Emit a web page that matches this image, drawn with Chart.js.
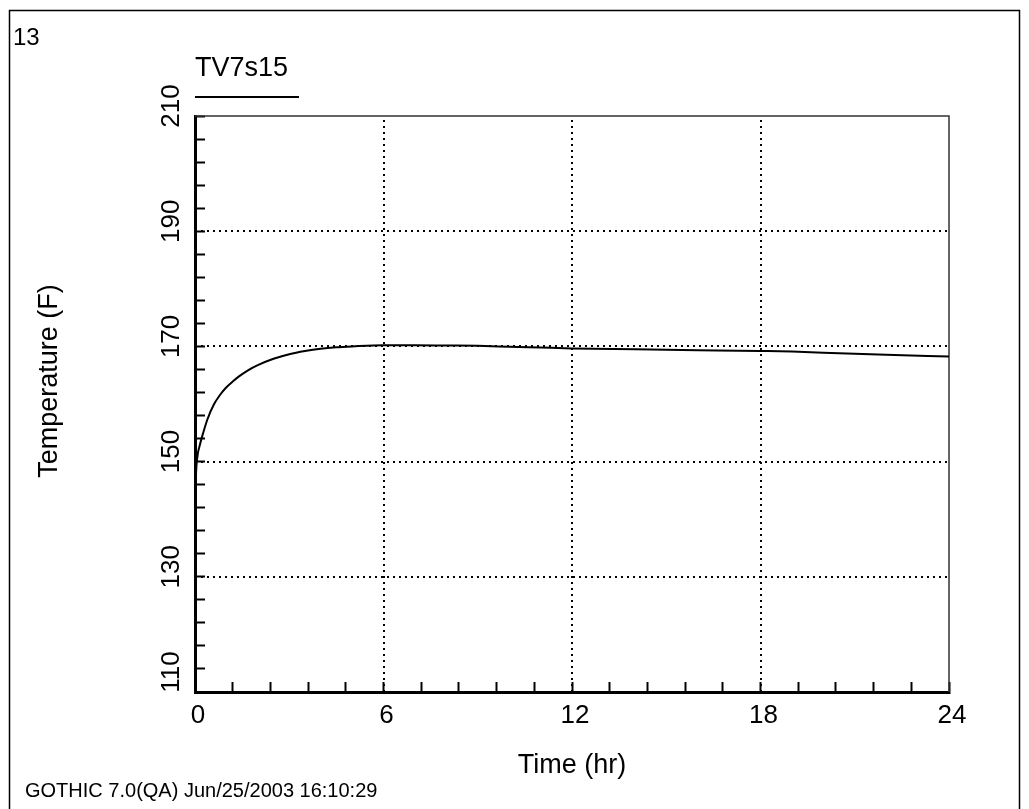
<!DOCTYPE html>
<html>
<head>
<meta charset="utf-8">
<script src="https://cdn.jsdelivr.net/npm/chart.js@4.4.0/dist/chart.umd.min.js"></script>
<style>
  html, body { margin: 0; padding: 0; background: #fff; }
  #wrap { width: 1029px; height: 809px; }
</style>
</head>
<body>
<div id="wrap"><canvas id="c" width="1029" height="809"></canvas></div>
<script>
// ---- data ----
const times = [0, 0.03, 0.08, 0.15, 0.25, 0.4, 0.6, 0.8, 1.0, 1.2, 1.4, 1.7, 2.0, 2.5, 3.0, 3.5, 4.0, 4.5, 5.0, 6.0, 7.0, 8.0, 9.0, 10, 11, 12, 14, 16, 18, 19, 20, 22, 24];
const temps = [140.5, 147.5, 151.0, 152.8, 154.8, 157.4, 159.9, 161.6, 162.9, 163.9, 164.8, 165.9, 166.75, 167.85, 168.65, 169.2, 169.6, 169.85, 170.0, 170.2, 170.2, 170.15, 170.1, 169.95, 169.8, 169.65, 169.5, 169.35, 169.2, 169.1, 168.9, 168.55, 168.25];
const seriesName = 'TV7s15';
const xTickLabels = ['0', '6', '12', '18', '24'];
const yTickLabels = ['110', '130', '150', '170', '190', '210'];
const xTitle = 'Time (hr)';
const yTitle = 'Temperature (F)';
const pageNumber = '13';
const footer = 'GOTHIC 7.0(QA) Jun/25/2003 16:10:29';

const FONT = '"Liberation Sans", Arial, sans-serif';

const decor = {
  id: 'decor',
  beforeDraw(chart) {
    const ctx = chart.ctx;
    ctx.save();
    ctx.fillStyle = '#fff';
    ctx.fillRect(0, 0, chart.width, chart.height);
    ctx.restore();
  },
  beforeDatasetsDraw(chart) {
    // dotted grid lines at the labelled ticks, positioned by the chart's scales
    const ctx = chart.ctx;
    const a = chart.chartArea;
    const xs = chart.scales.x, ys = chart.scales.y;
    ctx.save();
    ctx.strokeStyle = '#000';
    ctx.lineWidth = 2;
    ctx.setLineDash([2, 4]);
    xTickLabels.forEach(l => {
      const v = Number(l);
      if (v <= xs.min || v >= xs.max) return;
      const px = Math.round(xs.getPixelForValue(v));
      ctx.beginPath();
      ctx.moveTo(px, a.bottom);
      ctx.lineTo(px, a.top);
      ctx.stroke();
    });
    yTickLabels.forEach(l => {
      const v = Number(l);
      if (v <= ys.min || v >= ys.max) return;
      const py = Math.round(ys.getPixelForValue(v));
      ctx.beginPath();
      ctx.moveTo(a.left, py);
      ctx.lineTo(a.right, py);
      ctx.stroke();
    });
    // top and right frame
    ctx.setLineDash([]);
    ctx.lineWidth = 1.5;
    ctx.strokeStyle = '#333';
    ctx.beginPath();
    ctx.moveTo(a.left, a.top);
    ctx.lineTo(a.right, a.top);
    ctx.lineTo(a.right, a.bottom);
    ctx.stroke();
    ctx.restore();
  },
  afterDraw(chart) {
    const ctx = chart.ctx;
    const a = chart.chartArea;
    const xs = chart.scales.x, ys = chart.scales.y;
    ctx.save();
    // outer page border
    ctx.strokeStyle = '#000';
    ctx.lineWidth = 1.5;
    ctx.strokeRect(9.5, 10.5, 1010, 830);

    ctx.fillStyle = '#000';
    ctx.textBaseline = 'alphabetic';
    ctx.textAlign = 'left';
    ctx.font = '24px ' + FONT;
    ctx.fillText(pageNumber, 13, 45);

    // legend
    ctx.font = '27px ' + FONT;
    ctx.fillText(seriesName, 195, 76);
    ctx.lineWidth = 2;
    ctx.strokeStyle = '#000';
    ctx.beginPath();
    ctx.moveTo(195, 97);
    ctx.lineTo(299, 97);
    ctx.stroke();

    // footer
    ctx.font = '20px ' + FONT;
    ctx.fillText(footer, 25, 797);

    // x title
    ctx.font = '27px ' + FONT;
    ctx.textAlign = 'center';
    ctx.textBaseline = 'middle';
    ctx.fillText(xTitle, (a.left + a.right) / 2, 766);

    // y title
    ctx.save();
    ctx.translate(50, 381);
    ctx.rotate(-Math.PI / 2);
    ctx.fillText(yTitle, 0, 0);
    ctx.restore();

    // x tick labels
    ctx.font = '26px ' + FONT;
    ctx.textAlign = 'center';
    ctx.textBaseline = 'alphabetic';
    xTickLabels.forEach(lab => {
      const px = xs.getPixelForValue(Number(lab));
      ctx.fillText(lab, px + 3, 723);
    });

    // y tick labels (rotated)
    yTickLabels.forEach((lab, i) => {
      const py = ys.getPixelForValue(Number(lab));
      const off = (i === 0) ? -20 : -10;
      ctx.save();
      ctx.translate(172, py + off);
      ctx.rotate(-Math.PI / 2);
      ctx.textAlign = 'center';
      ctx.textBaseline = 'middle';
      ctx.fillText(lab, 0, 0);
      ctx.restore();
    });
    ctx.restore();
  }
};

const points = times.map((t, i) => ({ x: t, y: temps[i] }));

new Chart(document.getElementById('c'), {
  type: 'line',
  data: {
    datasets: [{
      label: seriesName,
      data: points,
      borderColor: '#000',
      borderWidth: 2,
      pointRadius: 0,
      fill: false,
      cubicInterpolationMode: 'monotone'
    }]
  },
  options: {
    responsive: false,
    animation: false,
    devicePixelRatio: 1,
    layout: { padding: { left: 195, top: 116, right: 80, bottom: 117 } },
    plugins: { legend: { display: false }, tooltip: { enabled: false }, title: { display: false } },
    scales: {
      x: {
        type: 'linear',
        min: 0, max: 24,
        afterFit(s) { s.height = 0; },
        ticks: { stepSize: 1.2, autoSkip: false, display: false },
        grid: {
          color: 'rgba(0,0,0,0)',
          drawTicks: true, tickLength: -10,
          tickColor: '#000', tickWidth: 2
        },
        border: { display: true, color: '#000', width: 3 }
      },
      y: {
        type: 'linear',
        min: 110, max: 210,
        afterFit(s) { s.width = 0; },
        ticks: { stepSize: 4, autoSkip: false, display: false },
        grid: {
          color: 'rgba(0,0,0,0)',
          drawTicks: true, tickLength: -10,
          tickColor: '#000', tickWidth: 2
        },
        border: { display: true, color: '#000', width: 3 }
      }
    }
  },
  plugins: [decor]
});
</script>
</body>
</html>
